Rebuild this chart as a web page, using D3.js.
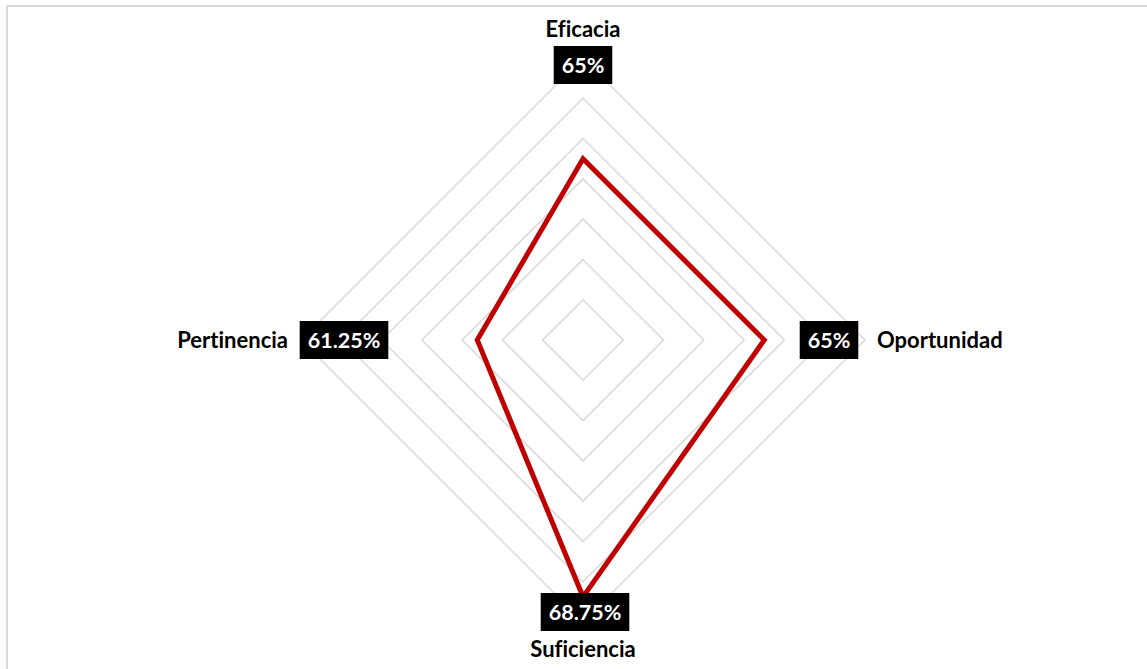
<!DOCTYPE html>
<html>
<head>
<meta charset="utf-8">
<script src="https://cdn.jsdelivr.net/npm/d3@7"></script>
<style>
  html, body { margin: 0; padding: 0; background: #fff; }
  svg { display: block; }
  text { font-variant-ligatures: none; font-feature-settings: "liga" 0; }
</style>
</head>
<body>
<svg id="radar_svg"></svg>
<script>
// chart data
const categories = ["Eficacia", "Oportunidad", "Suficiencia", "Pertinencia"];
const values = [0.65, 0.65, 0.6875, 0.6125];
const valueLabels = ["65%", "65%", "68.75%", "61.25%"];
const ringTicks = [0.58, 0.6, 0.62, 0.64, 0.66, 0.68, 0.7];
const axisMin = 0.56;

const width = 1147, height = 669;
const cx = 583, cy = 340, outerR = 282;

const svg = d3.select("#radar_svg").attr("width", width).attr("height", height);

// chart frame
svg.append("rect")
  .attr("x", 7).attr("y", 6)
  .attr("width", width + 20).attr("height", height + 20)
  .attr("fill", "none")
  .attr("stroke", "#d9d9d9")
  .attr("stroke-width", 2);

const r = d3.scaleLinear().domain([axisMin, 0.7]).range([0, outerR]);
const angle = d3.scalePoint().domain(categories).range([0, 2 * Math.PI * 3 / 4]);

const g = svg.append("g").attr("transform", `translate(${cx}, ${cy})`);

const radial = d3.lineRadial()
  .angle((d) => angle(d.cat))
  .radius((d) => r(d.v))
  .curve(d3.curveLinearClosed);

// grid rings
g.selectAll(".ring")
  .data(ringTicks)
  .enter()
  .append("path")
  .attr("class", "ring")
  .attr("d", (t) => radial(categories.map((cat) => ({ cat, v: t }))))
  .attr("fill", "none")
  .attr("stroke", "#d9d9d9")
  .attr("stroke-width", 1.5);

// series line
const series = categories.map((cat, i) => ({ cat, v: values[i] }));
g.append("path")
  .datum(series)
  .attr("d", radial)
  .attr("fill", "none")
  .attr("stroke", "#c00000")
  .attr("stroke-width", 5)
  .attr("stroke-linejoin", "miter");

// label layout, relative to the outer ring
const layout = {
  Eficacia:    { box: [0, -outerR + 7],  text: [0, -outerR - 29], anchor: "middle" },
  Oportunidad: { box: [outerR - 36, 0],  text: [outerR + 12, 0],  anchor: "start" },
  Suficiencia: { box: [2, outerR - 10],  text: [0, outerR + 27],  anchor: "middle" },
  Pertinencia: { box: [-outerR + 43, 0], text: [-outerR - 13, 0], anchor: "end" },
};

const fontFamily = "Lato, 'Open Sans', sans-serif";

categories.forEach((cat, i) => {
  const L = layout[cat];

  g.append("text")
    .attr("x", L.text[0])
    .attr("y", L.text[1])
    .attr("dy", "0.36em")
    .attr("text-anchor", L.anchor)
    .attr("font-family", fontFamily)
    .attr("font-weight", "bold")
    .attr("font-size", "22px")
    .attr("fill", "#000")
    .text(cat);

  const lbl = g.append("g").attr("transform", `translate(${L.box[0]}, ${L.box[1]})`);
  const t = lbl.append("text")
    .attr("text-anchor", "middle")
    .attr("dy", "0.36em")
    .attr("font-family", fontFamily)
    .attr("font-weight", "bold")
    .attr("font-size", "21.5px")
    .attr("fill", "#fff")
    .text(valueLabels[i]);
  const w = t.node().getComputedTextLength() + 16;
  lbl.insert("rect", "text")
    .attr("x", -w / 2).attr("y", -19)
    .attr("width", w).attr("height", 38)
    .attr("fill", "#000");
});
</script>
</body>
</html>
